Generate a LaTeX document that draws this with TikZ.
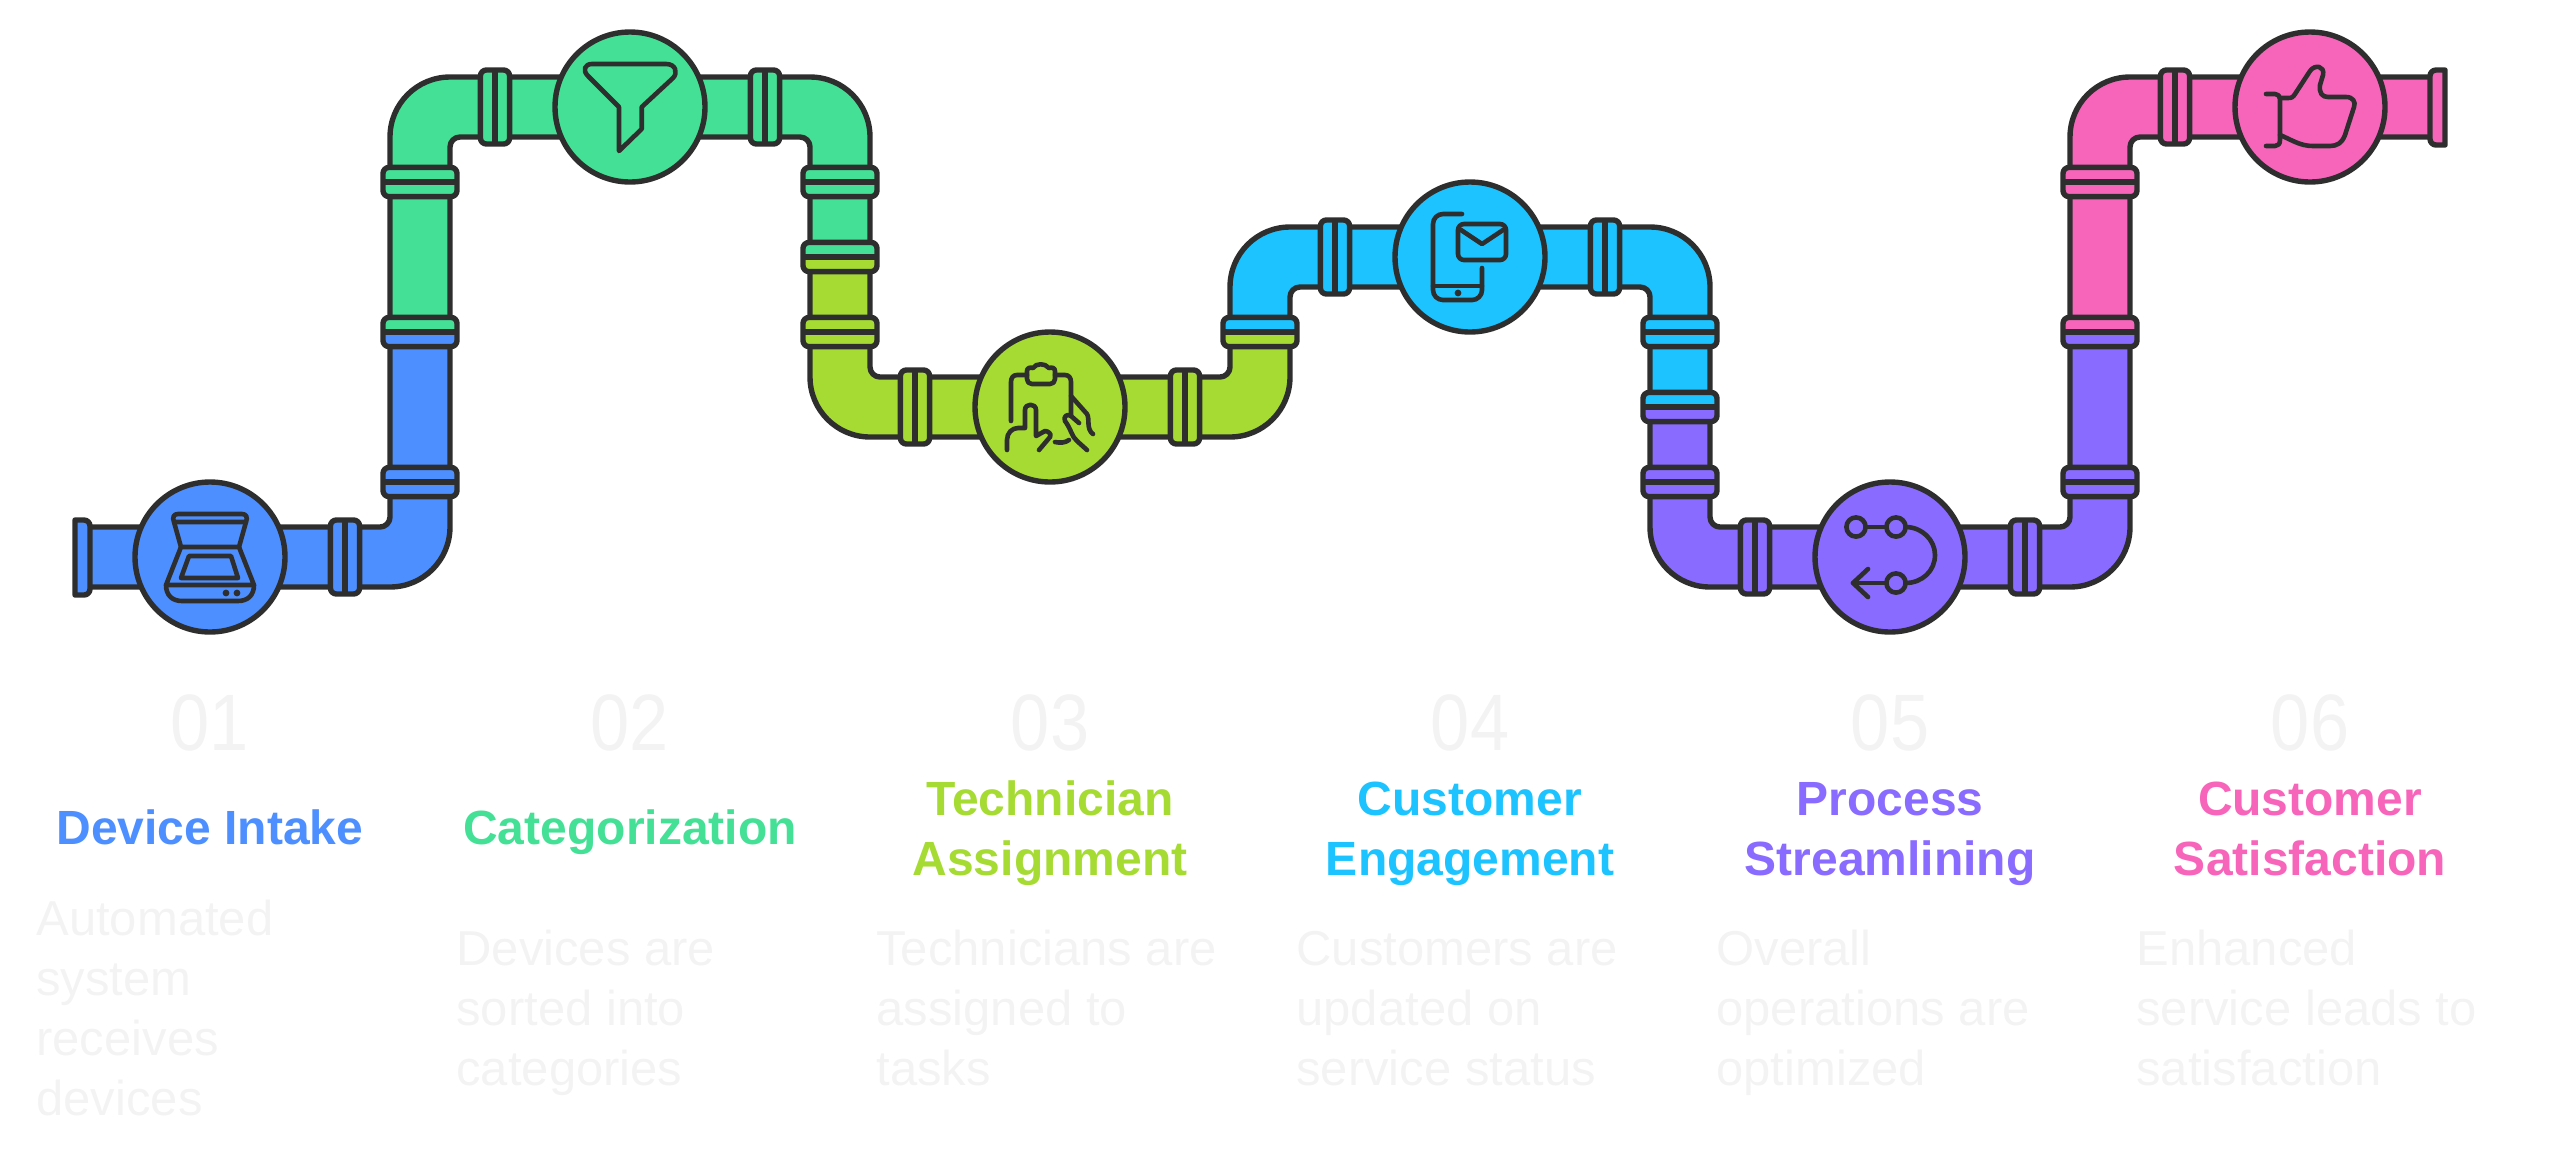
\documentclass[tikz,border=0pt]{standalone}
\usepackage{xcolor}
\usepackage{fontspec}
\setmainfont{Liberation Sans}
\newfontfamily\numfont[FakeStretch=0.88]{Liberation Sans}
\usetikzlibrary{positioning}
\definecolor{pipeblue}{HTML}{4D8FFF}
\definecolor{pipegreen}{HTML}{44E096}
\definecolor{pipelime}{HTML}{A6DB33}
\definecolor{pipecyan}{HTML}{1CC3FF}
\definecolor{pipepurple}{HTML}{8A6BFF}
\definecolor{pipepink}{HTML}{F765BB}
\definecolor{pipedark}{HTML}{2E2E2E}
\definecolor{fadetext}{HTML}{F3F3F3}
\tikzset{
  pipewall/.style={draw=pipedark, line width=2.7pt, line join=round},
  bendout/.style={rounded corners=30pt},
  bendin/.style={rounded corners=5pt},
  hub/.style={circle, draw=pipedark, line width=2.7pt, minimum size=75pt, inner sep=0pt, outer sep=0pt},
  collarv/.style={pipewall, rounded corners=3pt, minimum width=37pt, minimum height=14.6pt, inner sep=0pt, outer sep=0pt},
  collarh/.style={pipewall, rounded corners=3pt, minimum width=14.6pt, minimum height=37pt, inner sep=0pt, outer sep=0pt},
  glyph/.style={draw=pipedark, line width=2.3pt, line cap=round, line join=round},
  numlabel/.style={text=fadetext, anchor=base, inner sep=0pt, font=\fontsize{40}{40}\numfont},
  titlelabel/.style={anchor=base, align=center, inner sep=0pt, font=\fontsize{24}{30}\selectfont\bfseries},
  notelabel/.style={text=fadetext, anchor=base west, align=left, inner sep=0pt, font=\fontsize{24.5}{30}\selectfont},
}
\begin{document}
\begin{tikzpicture}[x=.5pt, y=-.5pt]
  \useasboundingbox (0,0) rectangle (2550,1158);
  % pipe runs
  \draw[pipewall, fill=pipeblue] (82,527) [bendin] -- (390,527) [sharp corners] -- (390,332) -- (450,332) [bendout] -- (450,587) [sharp corners] -- (82,587) -- cycle;
  \draw[pipewall, fill=pipegreen] (390,332) [bendout] -- (390,77) -- (870,77) [sharp corners] -- (870,257) -- (810,257) [bendin] -- (810,137) -- (450,137) [sharp corners] -- (450,332) -- cycle;
  \draw[pipewall, fill=pipelime] (810,257) [bendout] -- (810,437) -- (1290,437) [sharp corners] -- (1290,332) -- (1230,332) [bendin] -- (1230,377) -- (870,377) [sharp corners] -- (870,257) -- cycle;
  \draw[pipewall, fill=pipecyan] (1230,332) [bendout] -- (1230,227) -- (1710,227) [sharp corners] -- (1710,407) -- (1650,407) [bendin] -- (1650,287) -- (1290,287) [sharp corners] -- (1290,332) -- cycle;
  \draw[pipewall, fill=pipepurple] (1650,407) [bendout] -- (1650,587) -- (2130,587) [sharp corners] -- (2130,332) -- (2070,332) [bendin] -- (2070,527) -- (1710,527) [sharp corners] -- (1710,407) -- cycle;
  \draw[pipewall, fill=pipepink] (2070,332) [bendout] -- (2070,77) [sharp corners] -- (2440,77) -- (2440,137) [bendin] -- (2130,137) [sharp corners] -- (2130,332) -- cycle;
  % end flanges
  \draw[pipewall, fill=pipeblue] (75,520) [rounded corners=3pt] -- (90,520) -- (90,595) [sharp corners] -- (75,595) -- cycle;
  \draw[pipewall, fill=pipepink] (2445,70) -- (2445,145) [rounded corners=3pt] -- (2430,145) -- (2430,70) [sharp corners] -- cycle;
  % collars
  \foreach \px/\py/\cola/\colb [count=\i] in {420/482/pipeblue/pipeblue, 420/332/pipegreen/pipeblue, 420/182/pipegreen/pipegreen,
      840/182/pipegreen/pipegreen, 840/257/pipegreen/pipelime, 840/332/pipelime/pipelime,
      1260/332/pipecyan/pipelime, 1680/332/pipecyan/pipecyan, 1680/407/pipecyan/pipepurple,
      1680/482/pipepurple/pipepurple, 2100/482/pipepurple/pipepurple, 2100/332/pipepink/pipepurple, 2100/182/pipepink/pipepink} {
    \node[collarv, fill=\cola, path picture={\fill[\colb] (path picture bounding box.south west) rectangle (path picture bounding box.east);}] (cv\i) at (\px,\py) {};
    \draw[pipewall] (cv\i.west) -- (cv\i.east);
  }
  \foreach \px/\py/\col [count=\i] in {345/557/pipeblue, 495/107/pipegreen, 765/107/pipegreen, 915/407/pipelime, 1185/407/pipelime,
      1335/257/pipecyan, 1605/257/pipecyan, 1755/557/pipepurple, 2025/557/pipepurple, 2175/107/pipepink} {
    \node[collarh, fill=\col] (ch\i) at (\px,\py) {};
    \draw[pipewall] (ch\i.north) -- (ch\i.south);
  }
  % hubs
  \node[hub, fill=pipeblue] (hubscan) at (210,557) {};
  \node[hub, fill=pipegreen] (hubfilter) at (630,107) {};
  \node[hub, fill=pipelime] (hubclip) at (1050,407) {};
  \node[hub, fill=pipecyan] (hubphone) at (1470,257) {};
  \node[hub, fill=pipepurple] (hubroute) at (1890,557) {};
  \node[hub, fill=pipepink] (hubthumb) at (2310,107) {};
  % scanner
  \begin{scope}[shift={(hubscan.center)}]
    \draw[glyph] (-36,-35) .. controls (-38,-40) and (-36,-43) .. (-32,-43) -- (32,-43) .. controls (36,-43) and (38,-40) .. (36,-35) -- cycle;
    \draw[glyph] (-36,-35) -- (-29,-10) -- (29,-10) -- (36,-35);
    \draw[glyph] (-29,-10) -- (-44,28) -- (44,28) -- (29,-10);
    \draw[glyph] (-44,28) .. controls (-44,38) and (-38,44) .. (-28,44) -- (28,44) .. controls (38,44) and (44,38) .. (44,28);
    \draw[glyph] (-21,-1) -- (21,-1) -- (28,21) -- (-29,21) -- cycle;
    \fill[pipedark] (16,36) circle[radius=1.7pt] (27,36) circle[radius=1.7pt];
  \end{scope}
  % funnel
  \begin{scope}[shift={(hubfilter.center)}]
    \draw[glyph] (-38,-43) -- (36,-43) .. controls (46,-43) and (48,-34) .. (43,-29) -- (11.7,0) -- (11.7,22) -- (-11,44) -- (-11,0) -- (-42,-31) .. controls (-48,-37) and (-45,-43) .. (-38,-43) -- cycle;
  \end{scope}
  % clipboard and hand
  \begin{scope}[shift={(hubclip.center)}]
    \draw[glyph] (-39,14) -- (-39,-25) .. controls (-39,-29) and (-37,-32) .. (-33,-32) -- (-23,-32);
    \draw[glyph] (5,-32) -- (15,-32) .. controls (19,-32) and (21,-29) .. (21,-25) -- (21,8);
    \draw[glyph] (-23,-36) .. controls (-23,-39) and (-20,-40) .. (-17,-39) .. controls (-14,-44) and (-5,-44) .. (-1,-39) .. controls (2,-40) and (5,-39) .. (5,-36) -- (5,-28) .. controls (5,-25) and (3,-23) .. (0,-23) -- (-18,-23) .. controls (-21,-23) and (-23,-25) .. (-23,-28) -- cycle;
    \draw[glyph] (-43,43) -- (-43,33) .. controls (-43,26) and (-38,21) .. (-32,21) -- (-25,21) -- (-25,3) .. controls (-25,-4) and (-14,-4) .. (-14,3) -- (-14,29) -- (-5,24) .. controls (-2,24) and (2,27) .. (0,30) -- (-11,43);
    \draw[glyph] (5,35) .. controls (10,36) and (15,36) .. (19,33);
    \draw[glyph] (21,-11) -- (37,7) .. controls (40,12) and (36,22) .. (43,27);
    \draw[glyph] (29,16) -- (21,9) .. controls (17,6) and (13,10) .. (15,14) .. controls (21,22) and (22,30) .. (27,34) -- (37,43);
  \end{scope}
  % phone and envelope
  \begin{scope}[shift={(hubphone.center)}]
    \draw[glyph] (-8,-43) [rounded corners=5pt] -- (-37,-43) -- (-37,43) -- (12,43) [sharp corners] -- (12,11);
    \draw[glyph] (-37,29) -- (12,29);
    \fill[pipedark] (-12,36) circle[radius=1.7pt];
    \draw[glyph, rounded corners=3pt] (-12,-33) rectangle (36,3);
    \draw[glyph] (-9,-27) -- (12,-13) -- (33,-27);
  \end{scope}
  % route
  \begin{scope}[shift={(hubroute.center)}]
    \draw[glyph] (-34,-30) circle[radius=4.8pt] (6,-30) circle[radius=4.8pt] (6,26) circle[radius=4.8pt];
    \draw[glyph] (-24.5,-30) -- (-3.5,-30);
    \draw[glyph] (15.5,-30) .. controls (32,-30) and (45,-17) .. (45,-2) .. controls (45,14) and (32,26) .. (15.5,26);
    \draw[glyph] (-3.5,26) -- (-37,26);
    \draw[glyph] (-22,12) -- (-37,26) -- (-22,40);
  \end{scope}
  % thumb
  \begin{scope}[shift={(hubthumb.center)}]
    \draw[glyph] (-44,-13) -- (-35,-13) .. controls (-32,-13) and (-30,-11) .. (-30,-8) -- (-30,33) .. controls (-30,37) and (-32,39) .. (-35,39) -- (-44,39);
    \draw[glyph] (-30,-9) -- (-22,-9) .. controls (-18,-9) and (-17,-10) .. (-15,-13) -- (0,-36) .. controls (5,-43) and (15,-41) .. (13,-32) -- (10,-22) .. controls (9,-14) and (12,-10) .. (18,-10) -- (36,-10) .. controls (43,-10) and (46,-5) .. (44,0) -- (35,28) .. controls (32,36) and (27,39) .. (20,39) -- (3,39) .. controls (-10,39) and (-18,33) .. (-30,28);
  \end{scope}
  % numbers
  \foreach \px/\numtext [count=\i] in {210/01, 630/02, 1050/03, 1470/04, 1890/05, 2310/06} {
    \node[numlabel] (num\i) at (\px,750) {\numtext};
  }
  % titles
  \node[titlelabel, text=pipeblue] (titlescan) at (210,844) {Device Intake};
  \node[titlelabel, text=pipegreen] (titlefilter) at (630,844) {Categorization};
  \node[titlelabel, text=pipelime] (titleclip) at (1050,875) {Technician\\Assignment};
  \node[titlelabel, text=pipecyan] (titlephone) at (1470,875) {Customer\\Engagement};
  \node[titlelabel, text=pipepurple] (titleroute) at (1890,875) {Process\\Streamlining};
  \node[titlelabel, text=pipepink] (titlethumb) at (2310,875) {Customer\\Satisfaction};
  % notes
  \node[notelabel] (notescan) at (36,1115) {Automated\\system\\receives\\devices};
  \node[notelabel] (notefilter) at (456,1085) {Devices are\\sorted into\\categories};
  \node[notelabel] (noteclip) at (876,1085) {Technicians are\\assigned to\\tasks};
  \node[notelabel] (notephone) at (1296,1085) {Customers are\\updated on\\service status};
  \node[notelabel] (noteroute) at (1716,1085) {Overall\\operations are\\optimized};
  \node[notelabel] (notethumb) at (2136,1085) {Enhanced\\service leads to\\satisfaction};
\end{tikzpicture}
\end{document}
